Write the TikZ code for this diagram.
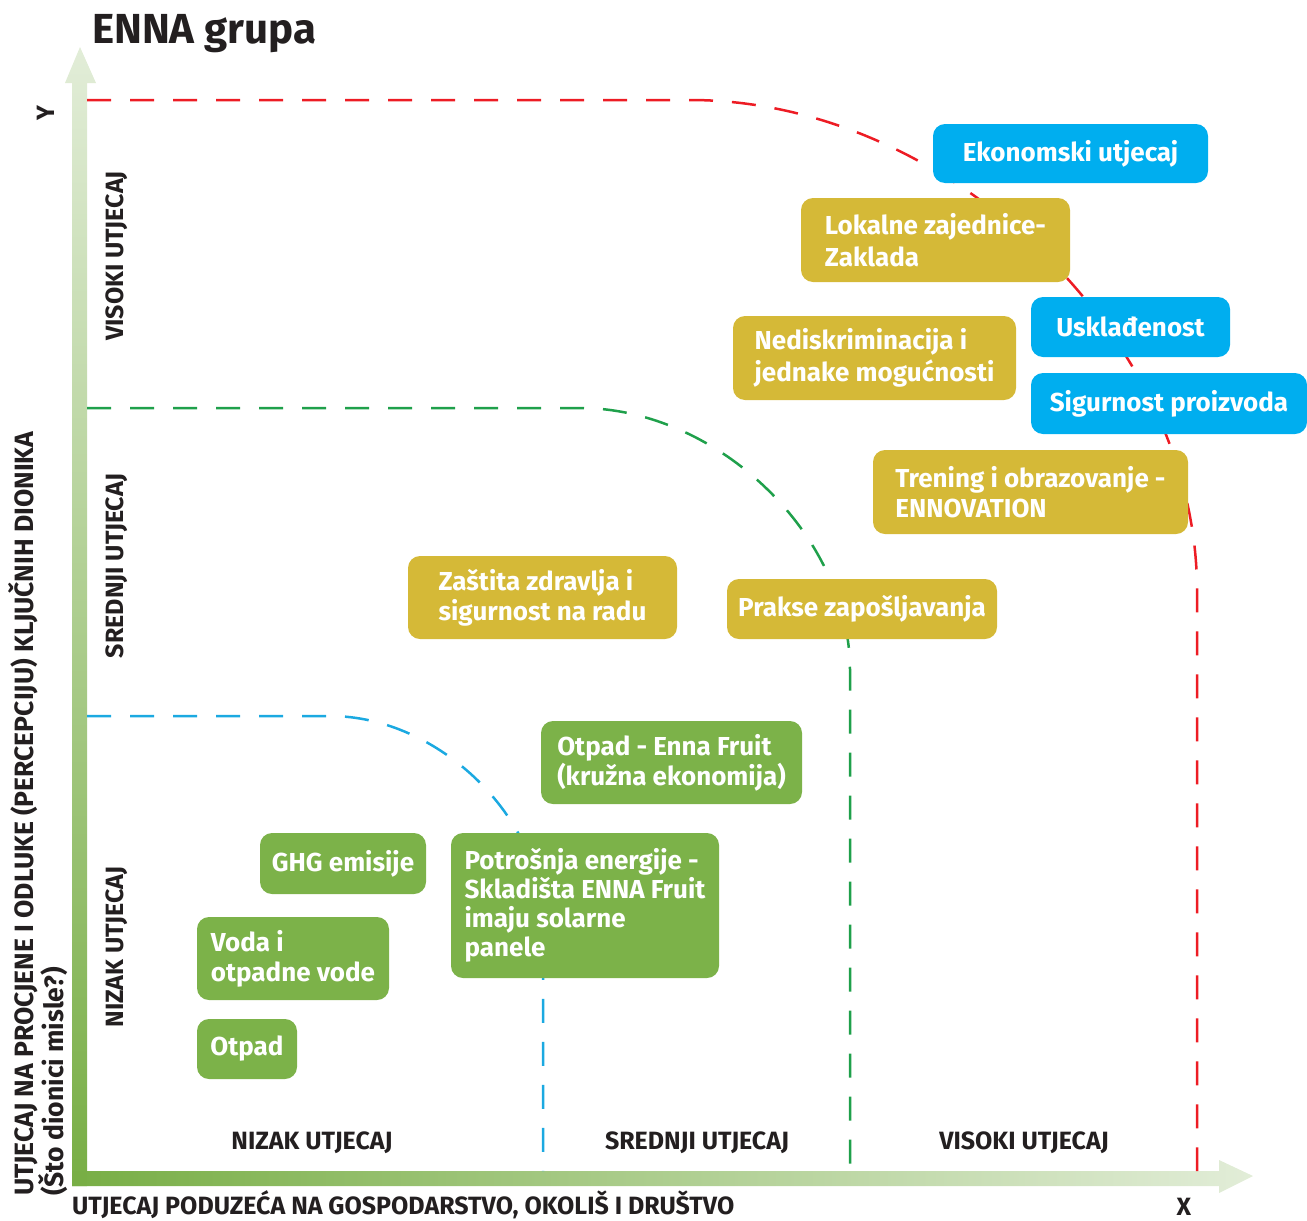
\documentclass[tikz,border=0pt]{standalone}
\usepackage{fontspec}
\setmainfont{Fira Sans}
\usepackage{tikz}
\usetikzlibrary{positioning}
\definecolor{boxblue}{HTML}{00AEEF}
\definecolor{boxgold}{HTML}{D5B937}
\definecolor{boxgreen}{HTML}{7CB249}
\definecolor{zonered}{HTML}{ED1C24}
\definecolor{zonegreen}{HTML}{1FA04B}
\definecolor{zoneblue}{HTML}{1BA9E1}
\definecolor{axisdark}{HTML}{78AE45}
\definecolor{axislight}{HTML}{E2EDD8}
\definecolor{inkblack}{HTML}{231F20}

\begin{document}
\begin{tikzpicture}[x=1pt, y=-1pt,
    impact/.style={rounded corners=12pt, text=white, align=left, inner sep=0pt,
      font=\bfseries\fontsize{26}{30}\selectfont},
    bluebox/.style={impact, fill=boxblue},
    goldbox/.style={impact, fill=boxgold},
    greenbox/.style={impact, fill=boxgreen},
    zone/.style={dash pattern=on 24pt off 19pt, line width=2.5pt},
    axislab/.style={text=inkblack, inner sep=0pt, font=\bfseries\fontsize{25}{28}\selectfont}]
    \useasboundingbox (0,0) rectangle (1307,1221);

    % Title
    \node[anchor=base west, inner sep=0pt, text=inkblack, font=\bfseries\fontsize{42}{46}\selectfont] (title) at (92,43) {ENNA grupa};

    % Axes
    \coordinate (ytip) at (80,47);
    \coordinate (xtip) at (1253,1176);
    \shade[bottom color=axisdark, top color=axislight]
      (72,1186) -- (72,83) -- (65,83) -- (ytip) -- (96,83) -- (87,83) -- (87,1186) -- cycle;
    \shade[left color=axisdark, right color=axislight]
      (72,1171) -- (1219,1171) -- (1219,1160) -- (xtip) -- (1219,1193) -- (1219,1186) -- (72,1186) -- cycle;
    \fill[axisdark] (72,1171) rectangle (87,1186);

    % Zones
    \draw[zone, zonered] (87,100) -- (690,100) .. controls (950,100) and (1197,340) .. (1197,590) -- (1197,1171);
    \draw[zone, zonegreen] (87,408) -- (580,408) .. controls (718,408) and (850,536) .. (850,670) -- (850,1171);
    \draw[zone, zoneblue] (87,716) -- (330,716) .. controls (439,716) and (543,818) .. (543,923) -- (543,1171);

    % Level labels
    \node[axislab, rotate=90] (ylab1) at (117,256) {VISOKI UTJECAJ};
    \node[axislab, rotate=90] (ylab2) at (117,566) {SREDNJI UTJECAJ};
    \node[axislab, rotate=90] (ylab3) at (117,947) {NIZAK UTJECAJ};
    \node[axislab] (xlab1) at (312,1143) {NIZAK UTJECAJ};
    \node[axislab] (xlab2) at (697,1143) {SREDNJI UTJECAJ};
    \node[axislab] (xlab3) at (1024,1143) {VISOKI UTJECAJ};

    % Axis titles
    \node[axislab, rotate=90] (ysym) at (46,113) {Y};
    \node[axislab] (xsym) at (1184,1207) {X};
    \node[axislab, rotate=90, anchor=north west, align=left, font=\bfseries\fontsize{26.5}{30}\selectfont] (ytitle) at (8,1196)
      {UTJECAJ NA PROCJENE I ODLUKE (PERCEPCIJU) KLJUČNIH DIONIKA\\(Što dionici misle?)};
    \node[axislab, anchor=base west] (xtitle) at (72,1214)
      {UTJECAJ PODUZEĆA NA GOSPODARSTVO, OKOLIŠ I DRUŠTVO};

    % Blue boxes
    \node[bluebox, minimum width=275pt, minimum height=59pt] (eko) at (1070.5,153.5) {Ekonomski utjecaj};
    \node[bluebox, minimum width=199pt, minimum height=60pt] (uskl) at (1130.5,327) {Usklađenost};
    \node[bluebox, minimum width=276pt, minimum height=61pt] (sig) at (1169,403.5) {Sigurnost proizvoda};

    % Gold boxes
    \node[goldbox, minimum width=269pt, minimum height=84pt, font=\bfseries\fontsize{26}{32}\selectfont] (lok) at (935.5,240) {Lokalne zajednice-\\Zaklada};
    \node[goldbox, minimum width=283pt, minimum height=84pt, font=\bfseries\fontsize{26}{32}\selectfont] (nedis) at (874.5,358) {Nediskriminacija i\\jednake mogućnosti};
    \node[goldbox, minimum width=315pt, minimum height=84pt] (tren) at (1030.5,492) {Trening i obrazovanje -\\ENNOVATION};
    \node[goldbox, minimum width=269pt, minimum height=83pt] (zast) at (542.5,597.5) {Zaštita zdravlja i\\sigurnost na radu};
    \node[goldbox, minimum width=270pt, minimum height=60pt] (prakse) at (862,609) {Prakse zapošljavanja};

    % Green boxes
    \node[greenbox, minimum width=261pt, minimum height=83pt] (otpadef) at (671.5,762.5) {Otpad - Enna Fruit\\(kružna ekonomija)};
    \node[greenbox, minimum width=166pt, minimum height=61pt] (ghg) at (343,863.5) {GHG emisije};
    \node[greenbox, minimum width=268pt, minimum height=145pt, font=\bfseries\fontsize{26}{29}\selectfont] (potr) at (585,905.5)
      {Potrošnja energije -\\Skladišta ENNA Fruit\\imaju solarne\\panele};
    \node[greenbox, minimum width=192pt, minimum height=83pt] (voda) at (293,958.5) {Voda i\\otpadne vode};
    \node[greenbox, minimum width=100pt, minimum height=60pt] (otpad) at (247,1049) {Otpad};

\end{tikzpicture}
\end{document}
